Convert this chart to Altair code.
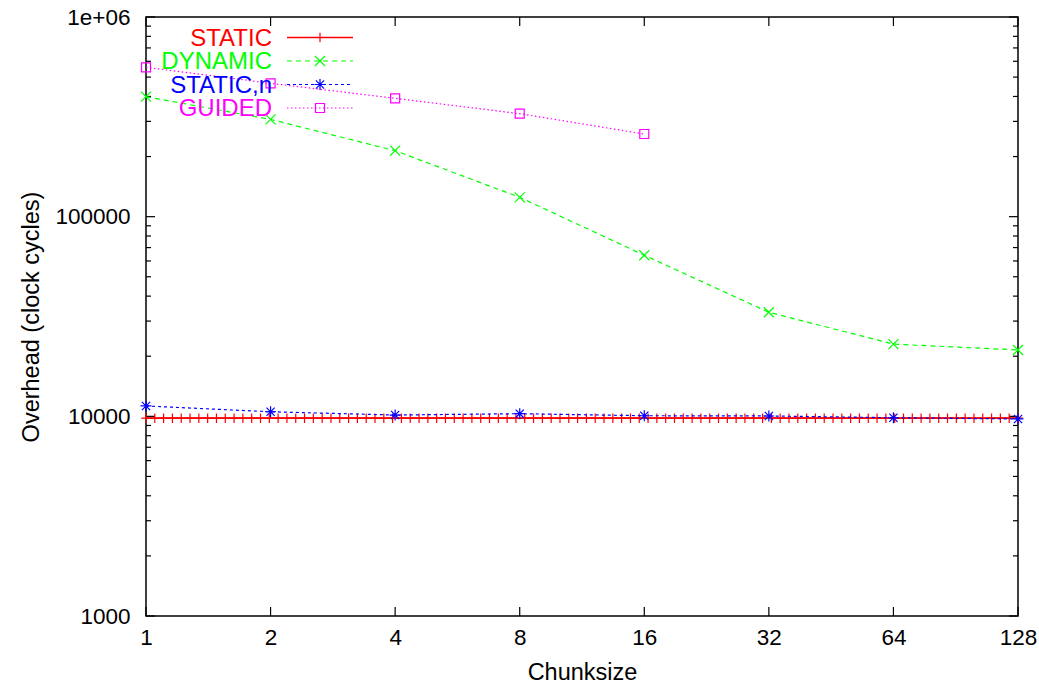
import altair as alt
import numpy as np
import pandas as pd

# Scheduling overhead measurements (clock cycles) per chunk size
CHUNKSIZES = [1, 2, 4, 8, 16, 32, 64, 128]
DYNAMIC = [399000, 307000, 214000, 125000, 64100, 33200, 23000, 21500]
STATIC_N = [11270, 10540, 10150, 10310, 10070, 10040, 9840, 9700]
GUIDED_CHUNKS = [1, 2, 4, 8, 16]
GUIDED = [560000, 465600, 391500, 328000, 259400]
# STATIC does not depend on the chunk size: a flat level drawn as a sampled function
STATIC_LEVEL = 9790
STATIC_SAMPLES = 100

SERIES = ["STATIC", "DYNAMIC", "STATIC,n", "GUIDED"]
COLORS = ["#ff0000", "#00ff00", "#0000ff", "#ff00ff"]
DASHES = [[1, 0], [5, 4], [3, 3], [1.5, 2.5]]

W, H = 872, 599
FONT = "Liberation Sans"

PLUS = "M-1,0L1,0M0,-1L0,1"
CROSS = "M-1,-1L1,1M-1,1L1,-1"
STAR = "M-1,0L1,0M0,-1L0,1M-0.75,-0.75L0.75,0.75M-0.75,0.75L0.75,-0.75"
SHAPES = [PLUS, CROSS, STAR, "square"]
SIZES = [90, 100, 120, 81]

XS = alt.Scale(type="log", base=2, domain=[1, 128], nice=False)
YS = alt.Scale(type="log", domain=[1000, 1000000], nice=False)

XAXIS = alt.Axis(
    values=CHUNKSIZES, format="d", title="Chunksize", ticks=False, tickSize=0,
    domain=False, grid=False, labelFlush=False, labelOverlap=False,
    labelFont=FONT, labelFontSize=22.5, labelColor="black", labelPadding=10,
    titleFont=FONT, titleFontSize=23.5, titleFontWeight="normal", titleColor="black",
    titleY=56, titleBaseline="middle",
)
YAXIS = alt.Axis(
    values=[1000, 10000, 100000, 1000000],
    labelExpr="datum.value >= 1000000 ? '1e+06' : format(datum.value, 'd')",
    title="Overhead (clock cycles)", ticks=False, tickSize=0,
    domain=False, grid=False, labelFlush=False, labelOverlap=False,
    labelFont=FONT, labelFontSize=22.5, labelColor="black", labelPadding=16,
    titleFont=FONT, titleFontSize=23.5, titleFontWeight="normal", titleColor="black",
    titleX=-115, titleY=H / 2, titleBaseline="middle", titleAlign="center",
)


def xenc(field):
    return alt.X(field, type="quantitative", scale=XS, axis=XAXIS)


def yenc(field):
    return alt.Y(field, type="quantitative", scale=YS, axis=YAXIS)


static_x = np.power(2.0, np.linspace(0, 7, STATIC_SAMPLES))
frames = [
    pd.DataFrame({"chunk": static_x, "cycles": STATIC_LEVEL}),
    pd.DataFrame({"chunk": CHUNKSIZES, "cycles": DYNAMIC}),
    pd.DataFrame({"chunk": CHUNKSIZES, "cycles": STATIC_N}),
    pd.DataFrame({"chunk": GUIDED_CHUNKS, "cycles": GUIDED}),
]

layers = []

# inward-pointing ticks on all four sides of the frame
x_major = pd.DataFrame({"chunk": CHUNKSIZES})
y_major = pd.DataFrame({"cycles": [1000, 10000, 100000, 1000000]})
y_minor = pd.DataFrame({"cycles": [m * d for d in (1000, 10000, 100000) for m in range(2, 10)]})
tick_style = dict(color="black", strokeWidth=1.2)
for y0, y1 in ((H, H - 9), (0, 9)):
    layers.append(alt.Chart(x_major).mark_rule(**tick_style).encode(
        x=xenc("chunk"), y=alt.value(y0), y2=alt.value(y1)))
for df, length in ((y_major, 9), (y_minor, 5)):
    for x0, x1 in ((0, length), (W, W - length)):
        layers.append(alt.Chart(df).mark_rule(**tick_style).encode(
            y=yenc("cycles"), x=alt.value(x0), x2=alt.value(x1)))

# data series
for i, df in enumerate(frames):
    width = 1.6 if i == 0 else 1.2
    layers.append(alt.Chart(df).mark_line(
        color=COLORS[i], strokeWidth=width, strokeDash=DASHES[i], clip=False
    ).encode(x=xenc("chunk"), y=yenc("cycles")))
    layers.append(alt.Chart(df).mark_point(
        shape=SHAPES[i], size=SIZES[i], filled=False, color=COLORS[i],
        strokeWidth=1.2, opacity=1
    ).encode(x=xenc("chunk"), y=yenc("cycles")))

# key in the upper-left corner: label, line sample, marker
one = pd.DataFrame({"k": [0]})
for i, name in enumerate(SERIES):
    ry = 20.5 + 23.5 * i
    layers.append(alt.Chart(one).mark_text(
        align="right", baseline="middle", font=FONT, fontSize=24,
        color=COLORS[i], dy=1
    ).encode(x=alt.value(126), y=alt.value(ry), text=alt.value(name)))
    layers.append(alt.Chart(one).mark_rule(
        color=COLORS[i], strokeWidth=1.6 if i == 0 else 1.2, strokeDash=DASHES[i]
    ).encode(x=alt.value(141), x2=alt.value(207), y=alt.value(ry)))
    layers.append(alt.Chart(one).mark_point(
        shape=SHAPES[i], size=SIZES[i], filled=False, color=COLORS[i],
        strokeWidth=1.2, opacity=1
    ).encode(x=alt.value(174), y=alt.value(ry)))

chart = alt.layer(*layers).properties(
    width=W, height=H,
    autosize=alt.AutoSizeParams(type="none"),
    padding={"left": 146, "top": 17, "right": 21, "bottom": 75},
    background="white",
).configure_view(stroke="black", strokeWidth=1.5)

chart.save("out.html", embed_options={"renderer": "svg", "actions": False})
